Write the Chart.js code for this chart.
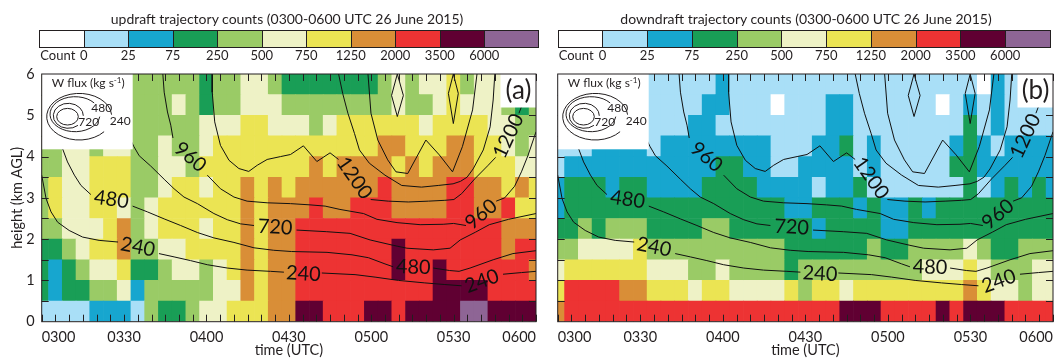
<!doctype html>
<html lang="en">
<head>
    <meta charset="UTF-8">
    <meta name="viewport" content="width=device-width, initial-scale=1.0">
    <title>Trajectory counts 26 June 2015</title>
    <script src="https://cdn.jsdelivr.net/npm/chart.js"></script>
    <style>
        body {
            margin: 0;
            background: #fff;
            font-family: Lato, "Open Sans", sans-serif;
            color: #231f20;
        }
        #page { position: relative; width: 1056px; height: 358px; overflow: hidden; }
        #page canvas { position: absolute; top: 0; }
        .cb-title { position: absolute; top: 10px; font-size: 14px; line-height: 18px; white-space: nowrap; transform: translateX(-50%); }
        .cb-box { position: absolute; top: 30px; height: 18px; box-sizing: border-box; border: 1px solid #231f20; }
        .cb-lab { position: absolute; top: 47px; font-size: 13px; line-height: 16px; white-space: nowrap; }
    </style>
</head>
<body>
<div id="page">
    <canvas id="chartA" width="545" height="358" style="left:0"></canvas>
    <canvas id="chartB" width="511" height="358" style="left:545px"></canvas>
</div>

<script>
    const INK = '#231f20';
    const TIME_LABELS = ['0300', '0330', '0400', '0430', '0500', '0530', '0600'];
    const COUNT_BOUNDS = ['0', '25', '75', '250', '500', '750', '1250', '2000', '3500', '6000'];
    const BIN_COLORS = ['#ffffff', '#a9dff7', '#17a6cf', '#199e56', '#9acb66', '#eef2c6', '#ebe453',
                        '#d98e37', '#ed3333', '#600032', '#8e6595'];
    const TITLES = ['updraft trajectory counts (0300-0600 UTC 26 June 2015)',
                    'downdraft trajectory counts (0300-0600 UTC 26 June 2015)'];

    // count bin of each 5-min column (0300..0600) and 0.5 km layer, top layer first (A = over 6000)
    const UPDRAFT_BINS = [
        '4444444444443445543333333454556455555',
        '4444444444543445554444444454456555434',
        '4444444444445556655545666666566665544',
        '4455455445445666666666666776667766545',
        '4455666445546666666676777767677766655',
        '4655666445665667676777777877778877676',
        '4655665456666667677787788877778877866',
        '4455567456665667677888888888888888777',
        '3345667445566667677888888898888888788',
        '3234556334554567677888888898898888887',
        '3233445244444557677888888888899998888',
        '1111222143345566677998889989999AA9999'
    ];
    const DOWNDRAFT_BINS = [
        '1111111111112111111111111111111021111',
        '1111111111122111011122111111012121111',
        '1111111111221111111122111111113121111',
        '1112222122222222111223121111123212222',
        '1222222222223322112222121111133222222',
        '2333233222233332222122311111113123232',
        '2333333333333333322333232232333333333',
        '3343444333344333333233332233333333333',
        '4455556444444444433333343344445433444',
        '5666666555445444434444444445556544455',
        '6888877666566555564665666666667655455',
        '7888888888888888888889998888989998888'
    ];

    // W flux contours, [minutes after 0300, km AGL], broken where the labels sit
    const wf240a = [[0, 3.55], [1.6, 2.98], [3.4, 2.66], [5.8, 2.41], [10, 2.21], [14.9, 2.05], [20.9, 1.97], [27.8, 1.93]];
    const wf240b = [[42.7, 1.65], [48.2, 1.57], [54.2, 1.48], [60.3, 1.38], [67.6, 1.3], [74.8, 1.25], [83.3, 1.22], [88.2, 1.2]];
    const wf240c = [[102, 1.18], [114.1, 1.14], [121.4, 1.08], [129.9, 1.0], [139.5, 0.94], [146.8, 0.9], [152.9, 0.87]];
    const wf240d = [[168, 1.15], [174.7, 1.19], [180, 1.22]];
    const wf480a = [[4, 6.1], [5.2, 5.1], [6.5, 4.5], [7.6, 4.19], [9.4, 3.87], [11.9, 3.55], [14.3, 3.3], [17.9, 3.08]];
    const wf480b = [[33.1, 2.8], [38.5, 2.66], [44.6, 2.49], [50.6, 2.33], [56.7, 2.16], [62.7, 2.03], [70, 1.92], [77.3, 1.79],
                    [84.5, 1.73], [91, 1.7], [103.9, 1.68], [113, 1.62], [119, 1.55], [125, 1.4], [128, 1.33]];
    const wf480c = [[142.6, 1.3], [148.5, 1.24], [152, 1.22], [156, 1.3], [164.4, 1.5], [171.6, 1.65], [180, 1.72]];
    const wf720a = [[28, 5.2], [31, 4.6], [33.5, 4.25], [35.5, 4.02], [39.7, 3.77], [44.6, 3.45], [48.2, 3.22], [51.8, 3.02],
                    [56.7, 2.86], [62.7, 2.62], [67.6, 2.47], [72.4, 2.37], [77.3, 2.33]];
    const wf720b = [[92.8, 2.22], [103.8, 2.18], [112.3, 2.14], [119.6, 1.98], [128, 1.85], [133, 1.78], [142.6, 1.74],
                    [148.7, 1.78], [152.4, 1.98], [158, 2.17], [163, 2.35], [170, 2.48], [180, 2.62]];
    const wf960a = [[44, 6.1], [44.6, 5.56], [45.8, 5.08], [47, 4.76], [47.8, 4.45]];
    const wf960b = [[60.3, 3.55], [65.1, 3.22], [70, 3.02], [74.8, 2.92], [82.1, 2.88], [90.6, 2.86], [97.7, 2.83], [103.2, 2.8],
                    [108.6, 2.72], [117.2, 2.62], [122.1, 2.48], [129.4, 2.4], [137.8, 2.35], [146.2, 2.36], [150, 2.38], [154.5, 2.33]];
    const wf960c = [[165.5, 2.92], [168.6, 3.0], [172.2, 3.28], [174.7, 3.63], [177.1, 4.03], [180, 4.6]];
    const wf1200a = [[62.1, 6.1], [62.1, 5.56], [63, 4.84], [65.1, 4.27], [68.2, 3.91], [71.8, 3.71], [75.4, 3.64], [78.5, 3.79],
                     [82.1, 3.93], [87, 4.0], [90.6, 4.05], [95.3, 4.26], [100.2, 3.88], [105, 4.09], [108.1, 3.93]];
    const wf1200b = [[119.8, 2.96], [126.2, 2.92], [133.5, 2.9], [140.8, 2.92], [146.8, 2.94], [150.1, 2.96], [152.9, 3.1],
                     [157.7, 3.46], [162.6, 3.79], [165.3, 3.98]];
    const wf1200c = [[173.8, 5.05], [175.8, 5.4], [177.5, 5.75], [178.8, 6.1]];
    const wf1440 = [[107.8, 6.1], [109.6, 5.53], [111.5, 5.05], [113.9, 4.56], [115.7, 4.16], [119.3, 3.84], [125, 3.55],
                    [131.1, 3.3], [138.3, 3.26], [144.4, 3.3], [149.8, 3.34], [152.5, 3.4], [154.9, 3.5], [157.1, 3.7],
                    [160.8, 4.16], [163.3, 4.72], [164.4, 5.37], [165.1, 6.1]];
    const wf1680 = [[118.7, 6.1], [119.9, 5.05], [122.4, 4.4], [126, 3.92], [129, 3.63], [133.3, 3.59], [139.9, 4.4],
                    [144.8, 4.04], [149.6, 3.63], [153.2, 4.24], [156.9, 5.13], [158.7, 6.1]];
    const wf1920a = [[129.5, 6.0], [131.7, 5.48], [129.5, 4.97], [127.4, 5.48], [129.5, 6.0]];
    const wf1920b = [[149.9, 6.0], [151.7, 5.53], [149.9, 4.8], [148.1, 5.53], [149.9, 6.0]];
    const WF_LINES = [wf240a, wf240b, wf240c, wf240d, wf480a, wf480b, wf480c, wf720a, wf720b,
                      wf960a, wf960b, wf960c, wf1200a, wf1200b, wf1200c, wf1440, wf1680, wf1920a, wf1920b];

    // contour labels: text, minutes after 0300, km, rotation in degrees
    const WF_LABELS = [
        ['240', 35, 1.81, 11], ['480', 25.4, 2.96, 8], ['720', 85, 2.29, 3], ['960', 54.1, 3.99, 40],
        ['1200', 113.9, 3.48, 55], ['480', 135.3, 1.32, 2], ['240', 95.3, 1.16, 3], ['240', 160.3, 0.98, -20],
        ['960', 160, 2.6, -40], ['1200', 170, 4.5, -65]
    ];
    const KEY_LEVELS = ['240', '480', '720'];

    Chart.defaults.font.family = 'Lato, "Open Sans", sans-serif';
    Chart.defaults.color = INK;

    function drawKey(ctx, a) {
        const L = a.left, T = a.top;
        ctx.fillStyle = '#fff';
        ctx.fillRect(L, T, 91, 75.3);
        ctx.fillStyle = INK;
        ctx.strokeStyle = INK;
        ctx.lineWidth = 1;
        ctx.textBaseline = 'middle';
        ctx.textAlign = 'left';
        const main = 'W flux (kg s', sup = '-1';
        ctx.font = '12px Lato';
        const w1 = ctx.measureText(main).width, w3 = ctx.measureText(')').width;
        ctx.font = '8px Lato';
        const w2 = ctx.measureText(sup).width;
        let sx = L + 46.5 - (w1 + w2 + w3) / 2;
        ctx.font = '12px Lato';
        ctx.fillText(main, sx, T + 9.5);
        sx += w1;
        ctx.font = '8px Lato';
        ctx.fillText(sup, sx, T + 6);
        sx += w2;
        ctx.font = '12px Lato';
        ctx.fillText(')', sx, T + 9.5);

        const rings = [[37.5, 42.7, 32.5, 23.3, -5, 40], [33.3, 40.2, 25, 17.5, -40, 8],
                       [26.6, 41.8, 15, 12.5, 0, 50], [25.8, 42.7, 10.8, 8.3, 0, 0]];
        rings.forEach(([cx, cy, rx, ry, g0, g1]) => {
            ctx.beginPath();
            if (g0 === g1) ctx.ellipse(L + cx, T + cy, rx, ry, 0, 0, 2 * Math.PI);
            else ctx.ellipse(L + cx, T + cy, rx, ry, 0, g1 * Math.PI / 180, (g0 + 360) * Math.PI / 180);
            ctx.stroke();
        });
        ctx.textAlign = 'center';
        ctx.fillText(KEY_LEVELS[0], L + 78.5, T + 47);
        ctx.fillText(KEY_LEVELS[1], L + 60, T + 34);
        ctx.fillText(KEY_LEVELS[2], L + 47, T + 48);
    }

    const panelDeco = {
        id: 'panelDeco',
        afterDatasetsDraw(chart, args, opts) {
            const {ctx, chartArea: a, scales: {x, y}} = chart;
            ctx.save();
            // contour labels
            ctx.fillStyle = '#111';
            ctx.font = '20px Lato';
            ctx.textAlign = 'center';
            ctx.textBaseline = 'middle';
            WF_LABELS.forEach(([txt, t, h, rot]) => {
                ctx.save();
                ctx.translate(x.getPixelForValue(t), y.getPixelForValue(h));
                ctx.rotate(rot * Math.PI / 180);
                ctx.fillText(txt, 0, 0);
                ctx.restore();
            });
            // inward ticks
            ctx.strokeStyle = INK;
            ctx.lineWidth = 1;
            ctx.beginPath();
            x.ticks.forEach(tk => {
                const px = Math.round(x.getPixelForValue(tk.value)) + 0.5;
                ctx.moveTo(px, a.bottom); ctx.lineTo(px, a.bottom - 7);
                ctx.moveTo(px, a.top); ctx.lineTo(px, a.top + 7);
            });
            for (let h = 0.5; h < 6; h += 0.5) {
                const py = Math.round(y.getPixelForValue(h)) + 0.5;
                ctx.moveTo(a.left, py); ctx.lineTo(a.left + 7, py);
                ctx.moveTo(a.right, py); ctx.lineTo(a.right - 7, py);
            }
            ctx.stroke();
            // key and panel letter
            drawKey(ctx, a);
            ctx.fillStyle = '#fff';
            ctx.fillRect(a.right - 35.5, a.top, 35.5, 33.5);
            ctx.fillStyle = INK;
            ctx.font = '26px Lato';
            ctx.textAlign = 'center';
            ctx.fillText('(' + opts.letter + ')', a.right - 17.5, a.top + 16.5);
            // frame
            ctx.strokeRect(a.left, a.top, a.width, a.height);
            ctx.restore();
        }
    };

    function makeChart(canvasId, rows, letter, showY, yWidth, padRight) {
        const cells = [];
        rows.forEach((row, i) => {
            const r = rows.length - 1 - i;
            for (let c = 0; c < row.length; c++) {
                cells.push({x: c * 5, y: [r * 0.5, r * 0.5 + 0.5], k: parseInt(row[c], 16)});
            }
        });
        const lineSets = WF_LINES.map(pts => ({
            type: 'line',
            data: pts.map(p => ({x: p[0], y: p[1]})),
            borderColor: '#111',
            borderWidth: 1,
            pointRadius: 0,
            tension: 0,
            fill: false,
            clip: 0,
            order: 1
        }));
        return new Chart(document.getElementById(canvasId), {
            type: 'bar',
            data: {
                datasets: [{
                    data: cells,
                    backgroundColor: ctx => ctx.raw ? BIN_COLORS[ctx.raw.k] : '#fff',
                    borderWidth: 0,
                    barPercentage: 1,
                    categoryPercentage: 1,
                    clip: 0,
                    order: 2
                }, ...lineSets]
            },
            options: {
                responsive: false,
                animation: false,
                events: [],
                layout: {padding: {left: 0, right: padRight, top: 74, bottom: 0}},
                plugins: {
                    legend: {display: false},
                    tooltip: {enabled: false},
                    panelDeco: {letter: letter}
                },
                scales: {
                    x: {
                        type: 'linear', min: 0, max: 180, offset: false,
                        grid: {drawOnChartArea: false, drawTicks: true, tickLength: 7, tickColor: 'rgba(0,0,0,0)', offset: false},
                        border: {display: false},
                        ticks: {
                            stepSize: 5, autoSkip: false, maxRotation: 0, align: 'inner', padding: 0,
                            font: {size: 14.5},
                            callback: v => v % 30 === 0 ? TIME_LABELS[v / 30] : ''
                        },
                        title: {display: true, text: 'time (UTC)', font: {size: 14.5, lineHeight: 1}, padding: 0},
                        afterFit: s => { s.height = 36.3; }
                    },
                    y: {
                        min: 0, max: 6,
                        grid: {drawOnChartArea: false, drawTicks: false},
                        border: {display: false},
                        ticks: {display: showY, stepSize: 1, padding: 7, font: {size: 14.5}},
                        title: {display: showY, text: 'height (km AGL)', font: {size: 14.5, lineHeight: 1}, padding: {top: 10.5, bottom: 0}},
                        afterFit: s => { s.width = yWidth; }
                    }
                }
            },
            plugins: [panelDeco]
        });
    }

    function addColorbar(title, left, step, right, titleX) {
        const page = document.getElementById('page');
        const t = document.createElement('div');
        t.className = 'cb-title';
        t.style.left = titleX + 'px';
        t.textContent = title;
        page.appendChild(t);
        BIN_COLORS.forEach((col, i) => {
            const b = document.createElement('div');
            b.className = 'cb-box';
            const x0 = left + i * step;
            const x1 = i === BIN_COLORS.length - 1 ? right : left + (i + 1) * step;
            b.style.left = x0 + 'px';
            b.style.width = (x1 - x0 + 1) + 'px';
            b.style.background = col;
            page.appendChild(b);
        });
        const c = document.createElement('div');
        c.className = 'cb-lab';
        c.style.left = (left + 1) + 'px';
        c.textContent = 'Count';
        page.appendChild(c);
        COUNT_BOUNDS.forEach((lab, i) => {
            const d = document.createElement('div');
            d.className = 'cb-lab';
            d.style.left = (left + (i + 1) * step) + 'px';
            d.style.transform = 'translateX(-50%)';
            d.textContent = lab;
            page.appendChild(d);
        });
    }

    addColorbar(TITLES[0], 39.3, 44.5, 538, 287);
    addColorbar(TITLES[1], 557.7, 44.75, 1050, 806);
    makeChart('chartA', UPDRAFT_BINS, 'a', true, 41.7, 9);
    makeChart('chartB', DOWNDRAFT_BINS, 'b', false, 12.7, 3);
</script>
</body>
</html>
